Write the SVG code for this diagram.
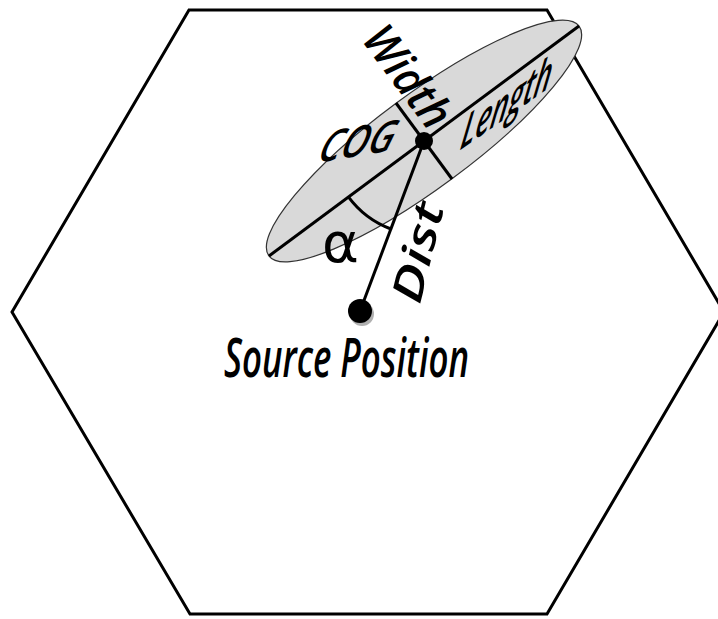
<svg xmlns="http://www.w3.org/2000/svg" width="718" height="619" viewBox="0 0 718 619">
<style>
.lbl{font-family:"Open Sans","Lato","DejaVu Sans",sans-serif;font-style:italic;font-weight:600;fill:#000}
.ln{stroke:#000;stroke-width:3;fill:none;stroke-linecap:butt}
</style>
<rect width="718" height="619" fill="#fff"/>
<g id="hexagon">
<polygon points="189,10 547,10 724,312 547,614 190,614 12,312" fill="none" stroke="#000" stroke-width="3" stroke-linejoin="miter"/>
</g>
<g id="ellipse">
<ellipse cx="424" cy="141" rx="193" ry="47" transform="rotate(-36.5 424 141)" fill="#d9d9d9" stroke="#333" stroke-width="1.2"/>
</g>
<g id="connectors">
<line class="ln" x1="269" y1="256" x2="579" y2="26"/>
<line class="ln" x1="396" y1="103" x2="452" y2="179" stroke-width="2.5"/>
<line class="ln" x1="424" y1="141" x2="360" y2="311"/>
<path class="ln" d="M348.4,196.9 A94,94 0 0 0 390.9,229" stroke-width="2.5"/>
</g>
<g id="cog">
<circle cx="424" cy="141" r="9" fill="#000"/>
<text class="lbl" font-size="46" textLength="76" lengthAdjust="spacingAndGlyphs" transform="matrix(0.986,-0.165,-0.309,0.951,316,163)">COG</text>
</g>
<g id="source">
<circle cx="362" cy="314" r="12" fill="#b0b0b0"/>
<circle cx="360" cy="311" r="12" fill="#000"/>
<text class="lbl" x="224" y="377" font-size="54" textLength="245" lengthAdjust="spacingAndGlyphs">Source Position</text>
</g>
<g id="labels">
<text class="lbl" font-size="50" textLength="110" lengthAdjust="spacingAndGlyphs" transform="matrix(0.819,-0.574,-0.191,0.982,459,151)">Length</text>
<text class="lbl" font-size="46" textLength="115" lengthAdjust="spacingAndGlyphs" text-anchor="middle" transform="translate(395,86) rotate(53.5)">Width</text>
<text class="lbl" font-size="42" textLength="102" lengthAdjust="spacingAndGlyphs" text-anchor="middle" transform="translate(432,256) rotate(-76)">Dist</text>
<text x="322" y="262" font-family="DejaVu Sans, sans-serif" font-size="56" fill="#000">α</text>
</g>
</svg>
